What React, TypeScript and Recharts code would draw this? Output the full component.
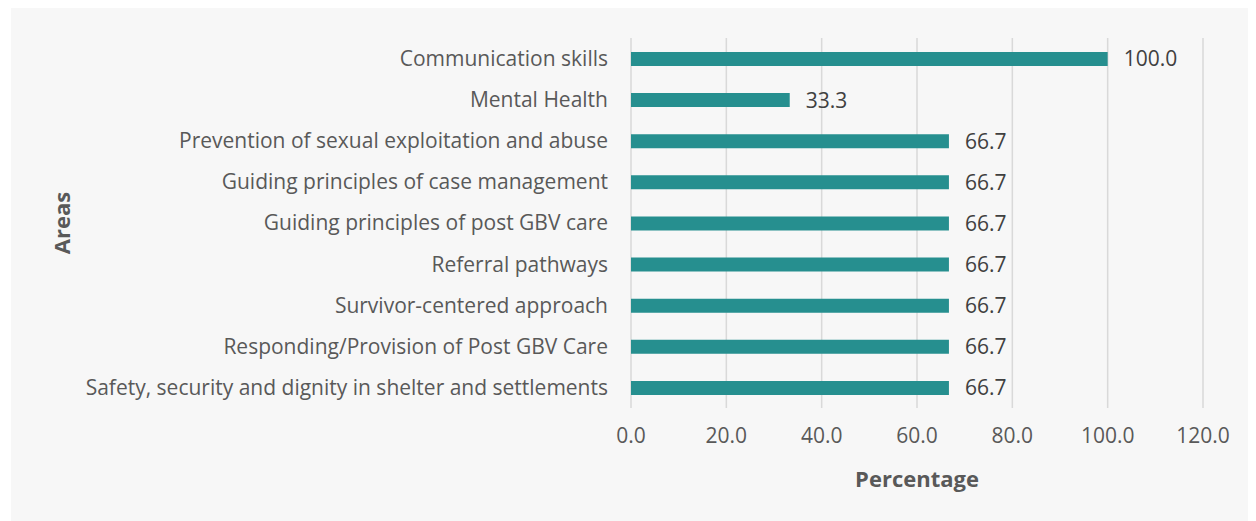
import React from 'react';
import { BarChart, Bar, XAxis, YAxis, CartesianGrid, LabelList } from 'recharts';

const categories = [
  'Communication skills',
  'Mental Health',
  'Prevention of sexual exploitation and abuse',
  'Guiding principles of case management',
  'Guiding principles of post GBV care',
  'Referral pathways',
  'Survivor-centered approach',
  'Responding/Provision of Post GBV Care',
  'Safety, security and dignity in shelter and settlements',
];
const percentages = [100.0, 33.3, 66.7, 66.7, 66.7, 66.7, 66.7, 66.7, 66.7];
const xTicks = [0, 20, 40, 60, 80, 100, 120];

const data = categories.map((c, i) => ({ area: c, value: percentages[i] }));

const FONT = '"Open Sans", Lato, sans-serif';
const GRAY = '#595959';

export default function App() {
  return (
    <div style={{ marginLeft: 3, width: 1237, height: 513, background: '#f7f7f7', fontFamily: FONT }}>
      <BarChart
        width={1237}
        height={513}
        data={data}
        layout="vertical"
        margin={{ top: 30, right: 45, bottom: 33, left: 0 }}
        barCategoryGap={0}
      >
        <CartesianGrid horizontal={false} vertical stroke="#d9d9d9" strokeWidth={1.5} />
        <XAxis
          type="number"
          domain={[0, 120]}
          ticks={xTicks}
          tickFormatter={(v: number) => v.toFixed(1)}
          axisLine={false}
          tickLine={false}
          tickSize={0}
          tickMargin={20}
          height={80}
          interval={0}
          tick={{ fill: GRAY, fontSize: 21, fontFamily: FONT }}
          label={{
            value: 'Percentage',
            position: 'insideBottom',
            offset: 1,
            style: { fill: GRAY, fontSize: 22, fontWeight: 700, fontFamily: FONT },
          }}
        />
        <YAxis
          type="category"
          dataKey="area"
          width={620}
          axisLine={false}
          tickLine={false}
          tickSize={0}
          tickMargin={23}
          interval={0}
          tick={{ fill: GRAY, fontSize: 21, fontFamily: FONT }}
          label={{
            value: 'Areas',
            angle: -90,
            position: 'insideLeft',
            offset: 51,
            style: { textAnchor: 'middle', fill: GRAY, fontSize: 22, fontWeight: 700, fontFamily: FONT },
          }}
        />
        <Bar dataKey="value" fill="#268f8f" barSize={14} isAnimationActive={false}>
          <LabelList
            dataKey="value"
            position="right"
            offset={16}
            formatter={(v: number) => v.toFixed(1)}
            style={{ fill: '#404040', fontSize: 21, fontFamily: FONT }}
          />
        </Bar>
      </BarChart>
    </div>
  );
}
